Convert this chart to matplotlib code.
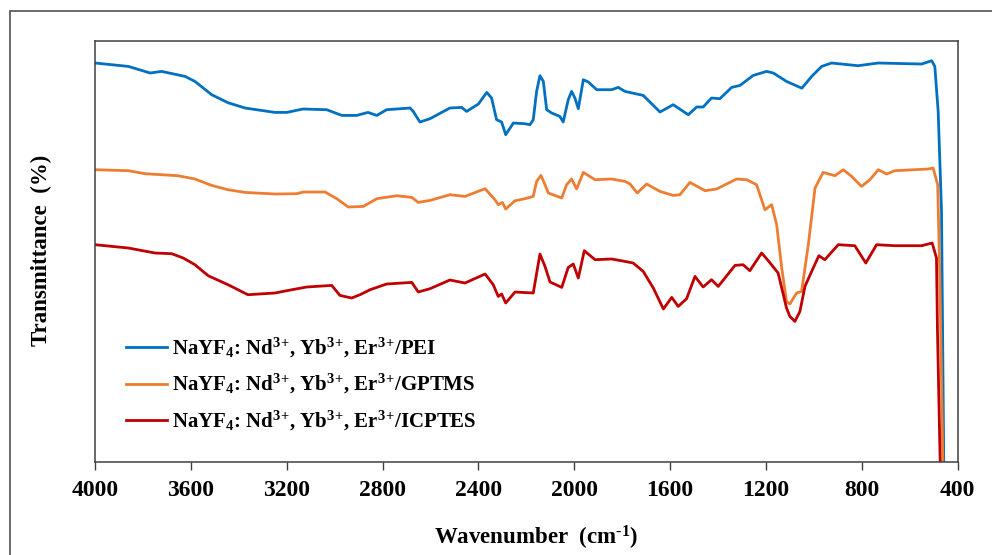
import matplotlib
matplotlib.use('Agg')
import matplotlib.pyplot as plt
from matplotlib.patches import Rectangle

# FTIR spectra, wavenumber (cm-1) and offset transmittance (arbitrary units)
wn_pei = [4000, 3861, 3770, 3722, 3624, 3583, 3513, 3445, 3374, 3249,
          3200, 3132, 3033, 2970, 2908, 2861, 2824, 2783, 2685, 2672,
          2644, 2602, 2519, 2470, 2449, 2400, 2365, 2345, 2324, 2303,
          2286, 2254, 2206, 2185, 2171, 2157, 2143, 2129, 2115, 2094,
          2060, 2046, 2025, 2011, 1997, 1983, 1962, 1941, 1906, 1844,
          1816, 1788, 1712, 1642, 1587, 1524, 1489, 1462, 1427, 1392,
          1343, 1308, 1253, 1197, 1169, 1114, 1050, 1009, 967, 926,
          815, 731, 550, 508, 495, 481, 467, 457]
t_pei = [398.7, 395.3, 388.7, 390.3, 385.3, 380.3, 367, 359, 353.7, 349.3,
         349.3, 352.7, 352, 346.3, 346.3, 349.3, 346.3, 352, 353.7, 350.3,
         339.7, 343, 353.7, 354.3, 350.3, 357.7, 369.3, 363.7, 342, 339.7,
         327, 338.7, 338, 337, 342, 370.3, 386, 380.3, 352, 348.7,
         345.3, 339.7, 362, 370.3, 363.7, 353, 382, 379.7, 372, 372,
         374.3, 370.3, 366.3, 349.7, 357, 347, 354.7, 354.7, 363.7, 363,
         374.3, 376.3, 386.3, 390.3, 388.7, 380.3, 373.5, 385.3, 395.3, 398.7,
         396, 398.7, 397.7, 401, 395.3, 350.3, 250.3, -20]

wn_gptms = [4000, 3861, 3791, 3654, 3583, 3513, 3445, 3374, 3249, 3158,
            3132, 3040, 2991, 2943, 2880, 2824, 2741, 2678, 2651, 2602,
            2519, 2456, 2372, 2331, 2317, 2300, 2286, 2247, 2206, 2171,
            2157, 2139, 2122, 2108, 2052, 2032, 2011, 1990, 1962, 1913,
            1844, 1788, 1767, 1737, 1698, 1642, 1587, 1559, 1517, 1454,
            1406, 1322, 1280, 1239, 1204, 1176, 1155, 1134, 1114, 1100,
            1072, 1051, 1023, 995, 961, 912, 877, 842, 801, 766,
            731, 696, 662, 523, 502, 483, 474, 460]
t_gptms = [292, 291, 288, 286, 282.7, 276.3, 272, 269.3, 267.7, 268,
           269.7, 269.7, 263, 254.7, 255.3, 263, 266, 264.3, 259.3, 261.3,
           267, 265.3, 273, 262, 257, 259.3, 252.7, 261, 263, 265.3,
           280.3, 286.3, 277, 268.7, 263.7, 277, 282.7, 272.7, 289.3, 282,
           282.7, 280.3, 277.7, 268.7, 277.7, 270.3, 266.3, 267, 279.3, 271,
           272.7, 282.7, 282, 277, 252, 257, 237, 193.7, 160.3, 157.7,
           168.7, 170.3, 217, 273.7, 289.3, 286, 292, 285.3, 275.3, 282,
           292, 287.7, 291, 292.7, 293.7, 277, 183.7, -20]

wn_icptes = [4000, 3861, 3750, 3680, 3632, 3583, 3528, 3445, 3362, 3249,
             3200, 3117, 3012, 2978, 2929, 2894, 2852, 2783, 2678, 2651,
             2602, 2519, 2456, 2372, 2338, 2317, 2303, 2286, 2247, 2171,
             2143, 2122, 2101, 2052, 2025, 2004, 1983, 1958, 1913, 1844,
             1788, 1754, 1712, 1670, 1628, 1593, 1566, 1531, 1496, 1462,
             1427, 1399, 1329, 1295, 1267, 1218, 1190, 1149, 1114, 1100,
             1079, 1058, 1037, 1009, 979, 954, 898, 829, 783, 738,
             662, 550, 506, 488, 484, 471]
t_icptes = [217, 213.7, 208.7, 208, 203.7, 197, 186, 177, 167, 168.7,
            171, 174.7, 176.3, 166.3, 163.7, 167, 172, 177.7, 179.3, 169.7,
            173, 181.7, 178.7, 187.7, 177, 165.3, 167.7, 158.7, 169.7, 168.7,
            207.7, 195.3, 179.7, 174.3, 194.3, 197.7, 183.7, 211, 202, 202.7,
            200.3, 198.7, 190.3, 173.7, 152.7, 164.3, 155.3, 163, 185.3, 174.7,
            182, 175.3, 196.3, 197, 191, 208.7, 201, 188.7, 153.7, 145.3,
            140.3, 150.3, 175.3, 190.3, 206, 202, 217, 216, 198.7, 217,
            216, 216, 218.7, 203.7, 132, -20]

labels = [r'NaYF$_4$: Nd$^{3\!+\!}$, Yb$^{3\!+\!}$, Er$^{3\!+\!}$/PEI',
          r'NaYF$_4$: Nd$^{3\!+\!}$, Yb$^{3\!+\!}$, Er$^{3\!+\!}$/GPTMS',
          r'NaYF$_4$: Nd$^{3\!+\!}$, Yb$^{3\!+\!}$, Er$^{3\!+\!}$/ICPTES']
colors = ['#0070C0', '#ED7D31', '#C00000']
x_ticks = [4000, 3600, 3200, 2800, 2400, 2000, 1600, 1200, 800, 400]

plt.rcParams['font.family'] = 'Liberation Serif'
plt.rcParams['font.weight'] = 'bold'
plt.rcParams['mathtext.fontset'] = 'custom'
plt.rcParams['mathtext.rm'] = 'Liberation Serif:bold'
plt.rcParams['mathtext.it'] = 'Liberation Serif:bold'
plt.rcParams['mathtext.bf'] = 'Liberation Serif:bold'

fig = plt.figure(figsize=(9.92, 5.55), dpi=100)
fig.patch.set_facecolor('white')
ax = fig.add_axes([0.0958, 0.1681, 0.8695, 0.758])

ax.plot(wn_pei, t_pei, color=colors[0], lw=2.0, label=labels[0])
ax.plot(wn_gptms, t_gptms, color=colors[1], lw=2.0, label=labels[1])
ax.plot(wn_icptes, t_icptes, color=colors[2], lw=2.0, label=labels[2])

ax.set_xlim(4000, 400)
ax.set_ylim(0, 420.7)
ax.set_xticks(x_ticks)
ax.set_yticks([])
ax.tick_params(axis='x', direction='out', length=6, width=1, labelsize=17, pad=7, color='#404040')
for lab in ax.get_xticklabels():
    lab.set_fontweight('bold')
for s in ax.spines.values():
    s.set_color('#404040')
    s.set_linewidth(1.1)

fig.text(0.540, 0.031, r'Wavenumber  (cm$^{\text{-1}}$)', ha='center', va='center', fontsize=16.5, fontweight='bold')
fig.text(0.042, 0.548, 'Transmittance  (%)', ha='center', va='center', rotation=90, fontsize=16.5, fontweight='bold')

ax.legend(loc='upper left', bbox_to_anchor=(0.036, 0.30), frameon=False, fontsize=15,
          handlelength=1.95, handletextpad=0.25, labelspacing=0.62, borderaxespad=0, borderpad=0)

# outer frame (cut by the image on right and bottom)
fig.patches.append(Rectangle((0.0096, -0.1), 1.2, 0.9793 + 0.1, transform=fig.transFigure,
                             fill=False, edgecolor='#505050', lw=1.2, clip_on=False))

fig.savefig('out.png', dpi=100)
